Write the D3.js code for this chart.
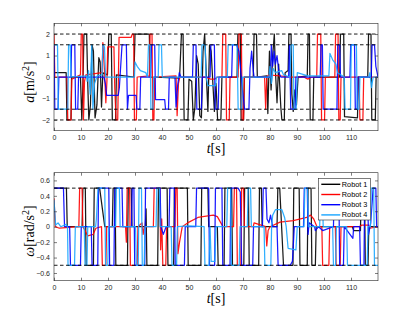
<!DOCTYPE html>
<html>
<head>
<meta charset="utf-8">
<script src="https://cdn.jsdelivr.net/npm/d3@7"></script>
<style>
  body { margin: 0; background: #fff; }
  svg { display: block; }
  .tick text { font-family: "Liberation Sans", Arial, sans-serif; font-size: 7px; fill: #262626; }
  .tick line { stroke: #262626; stroke-width: 0.6; }
  .lbl { font-family: "Liberation Serif", "DejaVu Serif", serif; font-size: 14px; fill: #000; }
  .leg { font-family: "Liberation Sans", Arial, sans-serif; font-size: 7.3px; fill: #000; }
</style>
</head>
<body>
<svg id="chart" width="415" height="315"></svg>
<script>
// ---------- データ(図から目読み) ----------
const robots = ["Robot 1", "Robot 2", "Robot 3", "Robot 4"];
const colors = ["#000000", "#ff0000", "#0000ff", "#1aa6ff"];

const tTicks = [0, 10, 20, 30, 40, 50, 60, 70, 80, 90, 100, 110];
const accTicks = [-2, -1, 0, 1, 2];
const omegaTicks = [-0.6, -0.4, -0.2, 0, 0.2, 0.4, 0.6];
const accLimits = [-2, -1.5, 1.5, 2];
const omegaLimits = [-0.5, 0.5];

// 加速度 a [m/s^2]  ([t, a])
const acc1 = [[0,0.2],[4.5,0.2],[4.8,-2],[6.3,-2],[6.5,0],[9.8,0],[10.3,-2],[10.7,-0.4],[11.1,2],[12.1,2],[12.5,-0.3],[12.9,-2],[13.5,-1.3],[14.1,1.5],[14.6,1.2],[15.2,-1.9],[15.9,-1.3],[16.6,0.9],[17.1,0.7],[17.6,-1.4],[18.1,0.2],[19.8,0.1],[20.3,2],[21.2,2],[21.6,-2],[22.8,-2],[23.1,0.1],[29.6,0],[30,2],[35.3,2],[35.6,0],[46.5,-0.05],[47.2,2],[47.8,2],[48.2,-2],[49.6,-2],[50,-0.1],[51,-0.2],[51.6,-2],[52.2,-1.4],[52.8,1],[53.4,0.6],[54,-1.8],[54.6,-1.9],[55.2,1.2],[55.8,2],[56.3,0.4],[57,-1.6],[57.6,1.5],[58.2,1.2],[59.4,-1.6],[60,-0.3],[60.6,-2],[61.8,-2],[62.2,0],[67.8,0],[68.1,2],[69,2],[69.3,-2],[70.2,-2],[70.5,0],[73.8,0],[74.1,2],[75,2],[75.3,0],[78.8,0.05],[79.2,-1.7],[79.8,1.2],[80.4,-0.6],[81,1],[81.6,2],[82,0.3],[82.6,-1.2],[83.2,0.6],[84,-1.4],[84.4,-2],[85.3,-2],[85.6,0.2],[86.7,0.3],[87,2],[87.8,2],[88.1,-0.8],[88.6,-1.6],[89.2,-0.6],[89.8,-1.3],[90.4,0],[93.8,0.05],[94.1,2],[94.6,2],[94.9,-2],[95.9,-2],[96.2,0],[105.8,0],[106.1,2],[107.3,2],[107.6,-1.85],[112.4,-1.9],[112.7,0],[116.2,0],[116.5,2],[117.4,2],[117.7,-2],[119,-2],[119.3,0],[120,0]];
const acc2 = [[0,2],[0.3,0],[4.8,0],[5.1,-2],[6.3,-2],[6.6,-0.1],[9.8,0.1],[10.1,2],[10.6,2],[10.9,-2],[11.3,-0.2],[11.8,0.1],[17.8,0.2],[18.1,1.6],[18.7,0.3],[19.2,-1.2],[19.6,-0.2],[19.9,1.4],[22.2,1.4],[22.5,-0.5],[23,-2],[23.6,-2],[24.1,1.85],[28.6,1.85],[29,2],[29.5,2],[29.8,-2],[30.5,-2],[30.8,0],[35.3,0.05],[35.6,2],[36.3,2],[36.6,-2],[37,-2],[37.3,0],[45.2,0.05],[45.6,-1.8],[46.1,-0.3],[46.6,0],[56,0],[58,-0.1],[59.5,-0.1],[60.5,0],[62.2,0],[62.5,2],[63.6,2],[63.9,-2],[64.9,-2],[65.2,0],[68.2,0],[68.5,2],[69.4,2],[69.7,-2],[70.2,-2],[70.5,0],[78,0],[78.4,-1.5],[78.8,0],[79.5,0.1],[88,0],[92.5,0],[94,-0.1],[95.5,0],[97.3,0],[97.6,2],[98.8,2],[99.1,-2],[100.2,-2],[100.5,0],[104,0],[104.3,2],[105.2,2],[105.5,-2],[106,-2],[106.3,0],[113,0],[113.3,-2],[114.4,-2],[114.7,0],[120,0]];
const acc3 = [[0,1.5],[0.3,-1.5],[1.5,-1.5],[1.8,0],[6.3,0],[6.5,1.5],[7.7,1.5],[8,-1.5],[8.8,-1.5],[9.1,0],[18.5,0],[19,-0.3],[19.5,-0.85],[23.8,-0.85],[24.2,-0.5],[25.2,1.5],[26.8,1.5],[27.2,-1.5],[27.6,-0.85],[30.4,-0.85],[30.7,-1.5],[31.8,-1.5],[32.1,0],[35.8,0],[36.1,1.5],[37.3,1.5],[37.6,-1.05],[41,-1.05],[41.3,-1.5],[42.4,-1.5],[42.7,0],[44.8,0],[45.2,-1.4],[45.8,-0.4],[46.4,0.2],[47,0],[51.3,0],[51.6,1.5],[52.6,1.5],[52.9,-1.5],[54.6,-1.5],[54.9,0],[57.8,0],[58.1,1.5],[59.4,1.5],[59.7,-1.5],[60.8,-1.5],[61.1,0],[65.8,0],[66.1,1.5],[67.6,1.5],[68.5,1.2],[69.8,-0.6],[70.6,-1.5],[72.2,-1.5],[72.6,0.4],[73.2,1.2],[73.8,0.3],[74.1,0],[80.2,0],[80.5,1.5],[81,0.5],[81.5,1.2],[82,0.6],[82.6,1],[83.3,0.2],[84,0],[86.9,0],[87.2,1.5],[87.7,-1.5],[89.3,-1.5],[89.6,0],[98.6,0],[98.9,1.5],[99.4,1.5],[99.7,-1.5],[104.8,-1.5],[105.1,1.5],[105.8,1.5],[106.1,0],[109.6,0],[109.9,1.5],[111.3,1.5],[111.6,-1.5],[112.3,-1.5],[112.6,0],[117.5,0],[117.8,1.5],[118.7,1.5],[119.2,0.5],[120,0]];
const acc4 = [[0,1.5],[1.3,1.5],[1.6,-1.5],[5.1,-1.5],[5.4,1.5],[6,1.5],[6.3,0],[12,0.05],[12.3,-0.2],[12.8,0.3],[13.4,-0.8],[14,1.5],[14.4,-1.5],[15,-0.3],[16,0.05],[17.8,0.1],[18.1,1.5],[18.7,1.4],[19.1,0],[29.8,0],[30,0.7],[30.8,0.5],[32,0.3],[34,0.2],[34.6,0],[35,1.5],[35.6,1.5],[35.9,-1.5],[36.6,-1.5],[36.9,0],[38.6,0],[38.9,1.5],[39.8,1.5],[40.1,0],[54.5,0],[54.8,1.5],[56,1.5],[56.3,0],[57,-0.4],[59.8,-0.4],[60.2,0],[64.2,0],[64.5,1.5],[67.8,1.5],[68.2,-1.5],[69.5,-1.5],[69.8,0],[79.6,0],[80,0.5],[80.5,-0.3],[81.2,0.4],[82,0.2],[84.3,0.3],[85,0.1],[87.4,0],[87.8,1.5],[88.6,1.5],[88.9,-1.5],[89.7,-1.5],[90.1,0.2],[94,0.05],[101.8,0.05],[102.2,1.1],[103.2,0.8],[104.4,0.6],[105,0.2],[107.5,0],[107.8,-1.5],[109.8,-1.5],[110.1,1.5],[112,1.5],[112.3,-1.5],[113,-1.5],[113.3,0],[116.6,0],[117,0.2],[117.6,-0.5],[118.2,0],[120,0]];

// 角加速度 ω [rad/s^2]  ([t, ω])
const omega1 = [[0,0.5],[4.6,0.5],[4.9,0],[10.4,0],[10.7,0.5],[11.6,0.5],[11.9,-0.5],[14.6,-0.5],[14.9,0.5],[16.9,0.5],[18.8,0],[21.6,0],[21.9,0.5],[22.6,0.5],[22.9,-0.5],[27.2,-0.5],[27.5,0.5],[28.6,0.5],[28.9,0],[33.8,0],[34.1,0.23],[34.4,-0.5],[38.4,-0.5],[38.7,0.5],[41.9,0.5],[42.2,-0.5],[44.3,-0.5],[44.6,0.5],[49.4,0.5],[49.7,-0.5],[54.4,-0.5],[54.7,0.5],[57,0.5],[57.3,0],[60.5,0],[60.8,-0.5],[63,-0.5],[63.3,0.5],[65.8,0.5],[66.1,-0.5],[70.3,-0.5],[70.6,0.5],[72,0.5],[72.3,-0.5],[75.8,-0.5],[76.1,0.5],[76.8,0.5],[77.1,0],[82.6,0],[82.9,0.5],[83.6,0.5],[85,-0.5],[88.5,-0.5],[88.8,0.5],[90.8,0.5],[91.1,-0.5],[93.8,-0.5],[94.1,0.5],[95.2,0.5],[95.5,-0.5],[96.8,-0.5],[97.1,0],[110.5,0],[111,-0.05],[113.5,-0.05],[113.8,0.5],[115,0.5],[115.3,-0.5],[116.3,-0.5],[116.6,0],[120,0]];
const omega2 = [[0,0.37],[0.5,0],[2,-0.02],[9.2,0],[9.5,0.5],[10.4,0.5],[10.7,0],[11.5,-0.05],[12.5,-0.12],[14.5,-0.1],[15.5,-0.02],[17.6,0],[17.9,-0.5],[19.2,-0.5],[19.5,0],[26.5,0],[26.8,-0.2],[27.1,0.5],[28,0.5],[28.3,-0.5],[30.8,-0.5],[31.1,0],[32.6,0.05],[33,-0.1],[33.5,0],[36.8,0],[37.1,0.5],[39.2,0.5],[39.5,-0.3],[39.9,0.1],[40.3,-0.5],[41.4,-0.5],[41.7,0],[44.8,0],[45.1,0.5],[45.6,0.5],[45.9,-0.35],[46.5,-0.2],[47.5,0],[50,0.06],[53.3,0.12],[57,0.14],[59,0.15],[60.5,0.13],[61.8,0.05],[62.6,0],[66.5,0],[66.8,0.5],[67.6,0.5],[67.9,-0.5],[69.2,-0.5],[69.5,0.5],[70.2,0.5],[70.5,0],[73.8,0],[74.1,0.05],[78.4,0],[78.8,-0.25],[79.3,-0.05],[80,0],[83.7,0.06],[88.6,0.08],[93.6,0.12],[95,0.15],[96.2,0.1],[97.4,0],[99.2,0],[99.5,-0.5],[101.8,-0.5],[102.1,0],[104.2,0],[104.5,-0.5],[106,-0.5],[106.3,0],[113,0],[114,0.02],[116.5,0.02],[117,-0.02],[120,0]];
const omega3 = [[0,0.5],[3.5,0.5],[3.9,0],[5.8,0],[6.1,-0.5],[9.8,-0.5],[10.1,0],[13.8,0],[14.1,-0.5],[16.2,-0.5],[16.5,0.5],[20.3,0.5],[20.6,-0.5],[22.2,-0.5],[22.5,0.5],[25.2,0.5],[25.5,0],[28.7,0],[29,0.5],[29.6,0.5],[29.9,-0.5],[33.6,-0.5],[33.9,0.5],[39.3,0.5],[39.6,0],[40.5,-0.1],[41.5,0],[42.6,0],[42.9,0.5],[44.6,0.5],[44.9,-0.5],[48.3,-0.5],[48.6,0],[52.5,0],[52.8,0.5],[57.3,0.5],[57.6,-0.5],[59.5,-0.5],[59.8,0.5],[62.2,0.5],[62.5,-0.5],[65.2,-0.5],[65.5,0.5],[68.2,0.5],[69,0.45],[69.5,-0.5],[73.6,-0.5],[73.9,0],[77.2,0],[77.5,0.5],[78.5,0.5],[78.9,0.1],[79.6,0.05],[80.2,0.15],[81,0],[82.6,0],[83,-0.5],[87.5,-0.5],[88.3,-0.45],[89,0],[92.4,0],[92.7,0.5],[93.8,0.5],[94.1,-0.1],[94.5,0.05],[96.5,0],[96.8,-0.05],[98,0],[99.5,-0.05],[103.5,0],[103.8,0.5],[105.5,0.5],[105.8,-0.5],[107.2,-0.5],[107.5,0],[110.7,-0.15],[111,0],[113.2,0],[113.5,-0.5],[114.8,-0.5],[115.1,0.5],[116,0.5],[116.5,-0.1],[117.3,0.05],[118.2,0.5],[119.2,0.5],[119.5,0],[120,0]];
const omega4 = [[0,0.35],[0.6,0.02],[1.5,0.05],[2.5,0],[4.5,0.03],[5,0],[5.2,-0.5],[7.6,-0.5],[7.9,0],[11.2,0],[11.5,-0.5],[12.2,-0.5],[12.5,0],[15.4,0],[15.7,0.1],[16.3,0.5],[18.8,0.5],[19.1,-0.5],[19.9,-0.5],[20.2,0],[22.8,0],[23.1,0.5],[24.2,0.5],[24.5,0],[30.2,0],[30.5,-0.5],[31.2,-0.5],[31.5,0.5],[32.4,0.5],[32.7,-0.5],[33.4,-0.5],[33.7,0],[37.8,0],[38.1,0.5],[39,0.5],[39.3,0],[43.4,0],[43.7,-0.5],[45.4,-0.5],[45.7,0],[50,0.01],[55.6,0],[55.9,-0.5],[57.4,-0.5],[57.8,0],[58.2,-0.45],[59.6,-0.45],[60,0],[64,0],[64.3,0.5],[65.4,0.5],[65.7,-0.5],[68.6,-0.5],[68.9,0],[71.6,0],[71.9,0.5],[72.8,0.5],[73.1,0],[77.8,0],[78.1,-0.5],[80.3,-0.5],[80.6,0],[81,0.15],[82,0.22],[84.4,0.22],[85.4,0.12],[86,0],[86.7,-0.28],[89.6,-0.3],[90.1,0],[92.6,0],[92.9,0.5],[93.9,0.5],[94.2,0],[98.4,0],[98.7,0.5],[99.4,0.5],[99.7,0],[103.2,0],[103.5,-0.5],[104.3,-0.5],[104.6,0],[108.4,0],[108.7,-0.5],[116,-0.5],[116.3,0],[117.2,0],[117.5,0.5],[118.4,0.5],[118.7,-0.5],[120,-0.5]];

// ---------- 描画 ----------
const svg = d3.select("#chart");
const X0 = 54, X1 = 378;

function panel({ top, bottom, yDomain, yTicks, series, limits, fmt, clipId }) {
  const x = d3.scaleLinear().domain([0, 120]).range([X0, X1]);
  const y = d3.scaleLinear().domain(yDomain).range([bottom, top]);
  const g = svg.append("g");

  g.append("clipPath").attr("id", clipId)
    .append("rect").attr("x", X0).attr("y", top).attr("width", X1 - X0).attr("height", bottom - top);

  const line = d3.line().x((d) => x(d[0])).y((d) => y(d[1]));
  const data = g.append("g").attr("clip-path", `url(#${clipId})`);
  series.forEach((s, i) => {
    data.append("path")
      .attr("d", line(s))
      .attr("fill", "none")
      .attr("stroke", colors[i])
      .attr("stroke-width", 1.25)
      .attr("stroke-linejoin", "round")
      .attr("stroke-opacity", 0.9);
  });

  // 制約ライン(破線)
  data.selectAll("line.lim").data(limits).join("line")
    .attr("class", "lim")
    .attr("x1", X0).attr("x2", X1)
    .attr("y1", (d) => y(d)).attr("y2", (d) => y(d))
    .attr("stroke", "#000").attr("stroke-width", 0.9)
    .attr("stroke-dasharray", "3.5,2.5");

  // 軸(目盛りは内向き)
  const ax = (gen, tr) => g.append("g").attr("transform", tr).call(gen).call((s) => s.select(".domain").remove());
  ax(d3.axisBottom(x).tickValues(tTicks).tickSize(-3).tickPadding(4), `translate(0,${bottom})`);
  ax(d3.axisTop(x).tickValues(tTicks).tickSize(-3).tickFormat(""), `translate(0,${top})`);
  ax(d3.axisLeft(y).tickValues(yTicks).tickSize(-3).tickPadding(4).tickFormat(fmt), `translate(${X0},0)`);
  ax(d3.axisRight(y).tickValues(yTicks).tickSize(-3).tickFormat(""), `translate(${X1},0)`);

  g.append("rect")
    .attr("x", X0).attr("y", top).attr("width", X1 - X0).attr("height", bottom - top)
    .attr("fill", "none").attr("stroke", "#262626").attr("stroke-width", 0.6);

  // x ラベル t[s]
  const xl = g.append("text").attr("class", "lbl")
    .attr("x", (X0 + X1) / 2).attr("y", bottom + 22).attr("text-anchor", "middle");
  xl.append("tspan").attr("font-style", "italic").text("t");
  xl.append("tspan").text("[s]");
  return { x, y, g };
}

panel({
  top: 23.3, bottom: 130.7, yDomain: [-2.5, 2.5], yTicks: accTicks,
  series: [acc1, acc2, acc3, acc4], limits: accLimits, fmt: d3.format("d"), clipId: "clipA",
});
panel({
  top: 172.7, bottom: 280.7, yDomain: [-0.7, 0.7], yTicks: omegaTicks,
  series: [omega1, omega2, omega3, omega4], limits: omegaLimits, fmt: (d) => (d === 0 ? "0" : d3.format(".1f")(d)), clipId: "clipW",
});

// y ラベル
function yLabel(cy, sym, unit) {
  const t = svg.append("text").attr("class", "lbl")
    .attr("transform", `translate(34,${cy}) rotate(-90)`).attr("text-anchor", "middle");
  t.append("tspan").attr("font-style", "italic").text(sym);
  t.append("tspan").text(`[${unit}/s`);
  t.append("tspan").attr("font-size", "10px").attr("dy", "-5").text("2");
  t.append("tspan").attr("dy", "5").text("]");
}
yLabel(82, "a", "m");
yLabel(231, "ω", "rad");

// 凡例
const leg = svg.append("g").attr("transform", "translate(318.3,178.3)");
leg.append("rect").attr("width", 52.4).attr("height", 41.7)
  .attr("fill", "#fff").attr("stroke", "#262626").attr("stroke-width", 0.6);
robots.forEach((r, i) => {
  const yy = 6 + i * 10.2;
  leg.append("line").attr("x1", 3).attr("x2", 22).attr("y1", yy).attr("y2", yy)
    .attr("stroke", colors[i]).attr("stroke-width", 1.4);
  leg.append("text").attr("class", "leg").attr("x", 23.5).attr("y", yy + 2.5).text(r);
});
</script>
</body>
</html>
